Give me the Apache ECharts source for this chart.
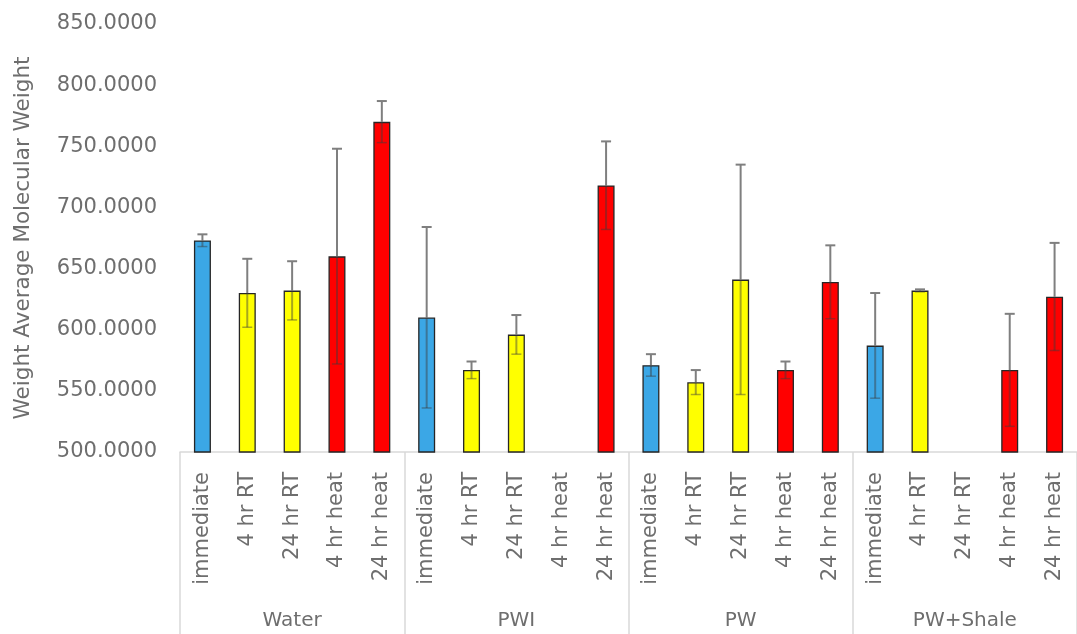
<!DOCTYPE html>
<html><head><meta charset="utf-8">
<script src="https://cdn.jsdelivr.net/npm/echarts@6/dist/echarts.min.js"></script>
<style>html,body{margin:0;padding:0;background:#fff}#c{width:1077px;height:634px}</style>
</head><body><div id="c"></div>
<script>
const groups = ['Water', 'PWI', 'PW', 'PW+Shale'];
const conditions = ['immediate', '4 hr RT', '24 hr RT', '4 hr heat', '24 hr heat'];
const conditionType = ['immediate', 'RT', 'RT', 'heat', 'heat'];
const waterValues = [673, 630, 632, 660, 770];
const waterErrors = [5, 28, 24, 88, 17];
const pwiValues = [610, 567, 596, null, 718];
const pwiErrors = [74, 7, 16, null, 36];
const pwValues = [571, 557, 641, 567, 639];
const pwErrors = [9, 10, 94, 7, 30];
const shaleValues = [587, 632, null, 567, 627];
const shaleErrors = [43, 1, null, 46, 44];
const yTicks = [500, 550, 600, 650, 700, 750, 800, 850];

const colors = { immediate: '#3BA7E6', RT: '#FFFF00', heat: '#FF0000' };
const allValues = [waterValues, pwiValues, pwValues, shaleValues];
const allErrors = [waterErrors, pwiErrors, pwErrors, shaleErrors];

const cats = [], barData = [], errData = [];
groups.forEach((g, gi) => {
  conditions.forEach((c, ci) => {
    const idx = cats.length;
    cats.push(c);
    const v = allValues[gi][ci];
    barData.push(v == null ? null : { value: v, itemStyle: { color: colors[conditionType[ci]] } });
    if (v != null) errData.push([idx, v, allErrors[gi][ci]]);
  });
});

const chart = echarts.init(document.getElementById('c'));
const font = 'DejaVu Sans';
const txt = '#6e6e6e';
chart.setOption({
  animation: false,
  grid: { left: 180, top: 24, bottom: 182, right: -11 },
  xAxis: [
    { type: 'category', data: cats, position: 'bottom',
      axisLine: { lineStyle: { color: '#d9d9d9', width: 1.5 } },
      axisTick: { show: false },
      axisLabel: { interval: 0, rotate: 90, margin: 20, color: txt, fontFamily: font, fontSize: 21 } },
    { type: 'category', data: groups, position: 'bottom',
      axisLine: { show: false },
      axisTick: { show: true, length: 182, interval: 0, lineStyle: { color: '#d9d9d9', width: 1.5 } },
      axisLabel: { interval: 0, margin: 159, color: txt, fontFamily: font, fontSize: 20 } }
  ],
  yAxis: {
    type: 'value', min: yTicks[0], max: yTicks[yTicks.length - 1], interval: 50,
    name: 'Weight Average Molecular Weight', nameLocation: 'middle', nameGap: 146,
    nameTextStyle: { color: txt, fontFamily: font, fontSize: 21.5 },
    axisLine: { show: false }, axisTick: { show: false }, splitLine: { show: false },
    axisLabel: { margin: 23, color: txt, fontFamily: font, fontSize: 21, formatter: v => v.toFixed(4) }
  },
  series: [
    { type: 'bar', data: barData, barWidth: 17, xAxisIndex: 0,
      itemStyle: { borderColor: '#262626', borderWidth: 1.3 } },
    { type: 'custom', xAxisIndex: 0, z: 5, data: errData,
      renderItem: function (params, api) {
        const x = api.value(0), v = api.value(1), e = api.value(2);
        const top = api.coord([x, v + e]);
        const mid = api.coord([x, v]);
        const bot = api.coord([x, v - e]);
        const hw = 5;
        return { type: 'group', children: [
          { type: 'line', shape: { x1: top[0], y1: top[1], x2: mid[0], y2: mid[1] }, style: { stroke: '#7f7f7f', lineWidth: 2 } },
          { type: 'line', shape: { x1: top[0] - hw, y1: top[1], x2: top[0] + hw, y2: top[1] }, style: { stroke: '#7f7f7f', lineWidth: 2 } },
          { type: 'line', shape: { x1: mid[0], y1: mid[1], x2: bot[0], y2: bot[1] }, style: { stroke: 'rgba(60,60,60,0.45)', lineWidth: 2 } },
          { type: 'line', shape: { x1: bot[0] - hw, y1: bot[1], x2: bot[0] + hw, y2: bot[1] }, style: { stroke: 'rgba(60,60,60,0.45)', lineWidth: 1.5 } }
        ] };
      }
    }
  ]
});
</script></body></html>
